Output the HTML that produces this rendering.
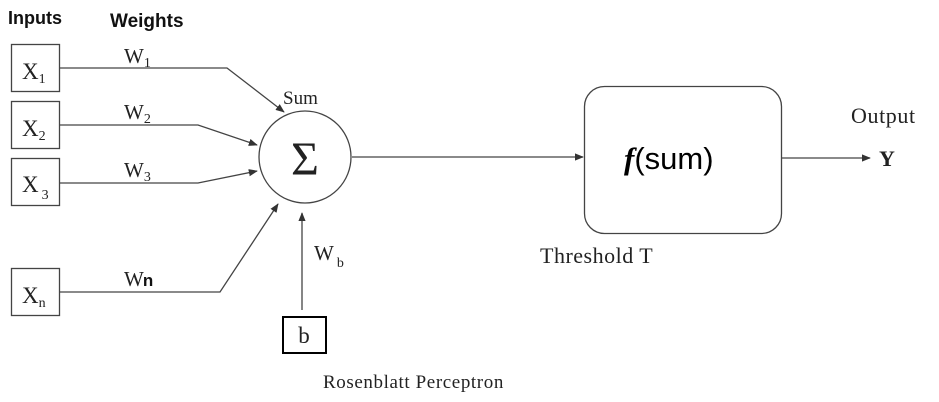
<!DOCTYPE html>
<html><head><meta charset="utf-8"><style>
html,body{margin:0;padding:0;background:#fff;}
svg{display:block;}
.serif{font-family:"Liberation Serif",serif;fill:#222;}
.sans{font-family:"Liberation Sans",sans-serif;fill:#111;}
</style></head><body>
<svg width="939" height="402" viewBox="0 0 939 402">
<defs>
<marker id="ah" viewBox="0 0 10 10" refX="9" refY="5" markerWidth="7" markerHeight="7" orient="auto"><path d="M0,1 L10,5 L0,9 z" fill="#333"/></marker>
</defs>
<text x="8" y="24" class="sans" font-size="18" font-weight="bold">Inputs</text>
<text x="110" y="27" class="sans" font-size="19" font-weight="bold">Weights</text>

<g stroke="#444" stroke-width="1.3" fill="none">
<rect x="11.5" y="44.5" width="48" height="47"/>
<rect x="11.5" y="101.5" width="48" height="47"/>
<rect x="11.5" y="158.5" width="48" height="47"/>
<rect x="11.5" y="268.5" width="48" height="47"/>
<polyline points="60,68 227,68 284,112" marker-end="url(#ah)"/>
<polyline points="60,125 198,125 257,145" marker-end="url(#ah)"/>
<polyline points="60,183 198,183 257,171" marker-end="url(#ah)"/>
<polyline points="60,292 220,292 278,204" marker-end="url(#ah)"/>
<line x1="302" y1="310" x2="302" y2="213" marker-end="url(#ah)"/>
<circle cx="305" cy="157" r="46"/>
<line x1="352" y1="157" x2="583" y2="157" marker-end="url(#ah)"/>
<rect x="584.5" y="86.5" width="197" height="147" rx="20"/>
<line x1="782" y1="158" x2="870" y2="158" marker-end="url(#ah)"/>
</g>
<rect x="283" y="317" width="43" height="36" fill="none" stroke="#000" stroke-width="2"/>

<text x="22" y="79" class="serif" font-size="23">X<tspan font-size="14" dy="4">1</tspan></text>
<text x="22" y="136" class="serif" font-size="23">X<tspan font-size="14" dy="4">2</tspan></text>
<text x="22" y="192" class="serif" font-size="23">X<tspan font-size="14" dy="7" dx="3">3</tspan></text>
<text x="22" y="303" class="serif" font-size="23">X<tspan font-size="14" dy="4">n</tspan></text>
<text x="124" y="63" class="serif" font-size="21">W<tspan font-size="14" dy="4">1</tspan></text>
<text x="124" y="119" class="serif" font-size="21">W<tspan font-size="14" dy="4">2</tspan></text>
<text x="124" y="177" class="serif" font-size="21">W<tspan font-size="14" dy="4">3</tspan></text>
<text x="124" y="286" class="serif" font-size="21">W<tspan class="sans" font-size="17" font-weight="bold" dx="-1">n</tspan></text>
<text x="283" y="104" class="serif" font-size="19">Sum</text>
<text x="305" y="175" class="serif" font-size="48" text-anchor="middle">Σ</text>
<text x="314" y="260" class="serif" font-size="21">W<tspan font-size="14" dy="7" dx="3">b</tspan></text>
<text x="304" y="343" class="serif" font-size="23" text-anchor="middle">b</text>
<text x="624" y="169" font-family="Liberation Sans,sans-serif" font-size="31" fill="#000"><tspan font-family="Liberation Serif,serif" font-style="italic" font-weight="bold">f</tspan>(sum)</text>
<text x="540" y="263" class="serif" font-size="22" letter-spacing="0.5">Threshold T</text>
<text x="851" y="123" class="serif" font-size="22" letter-spacing="0.6">Output</text>
<text x="879" y="166" class="serif" font-size="22" font-weight="bold">Y</text>
<text x="323" y="388" class="serif" font-size="19" letter-spacing="0.6">Rosenblatt Perceptron</text>
</svg>
</body></html>
